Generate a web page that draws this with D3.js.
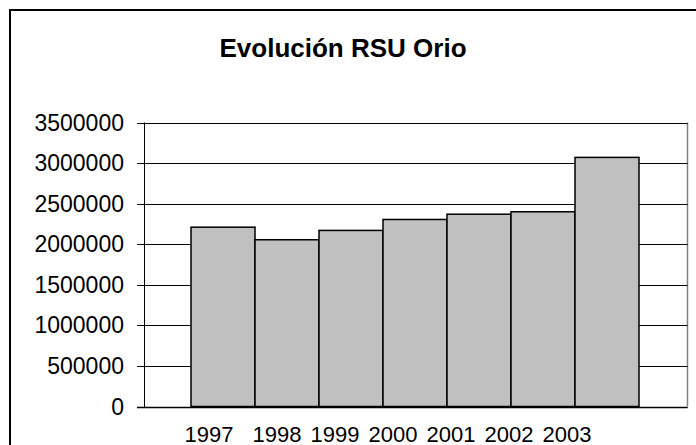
<!DOCTYPE html>
<html>
<head>
<meta charset="utf-8">
<script src="https://cdn.jsdelivr.net/npm/d3@7"></script>
<style>
  html, body { margin: 0; padding: 0; background: #fff; }
  svg { display: block; }
  text { font-family: "Liberation Sans", Arial, Helvetica, sans-serif; fill: #000; }
</style>
</head>
<body>
<svg id="chart" width="696" height="445"></svg>
<script>
const title = "Evolución RSU Orio";
const years = ["1997", "1998", "1999", "2000", "2001", "2002", "2003"];
const values = [2210000, 2055000, 2170000, 2305000, 2370000, 2400000, 3070000];
const yTicks = [0, 500000, 1000000, 1500000, 2000000, 2500000, 3000000, 3500000];

const svg = d3.select("#chart");
const plot = { left: 144.5, right: 687.5, top: 122.5, bottom: 406.5 };

// outer chart border
svg.append("rect")
  .attr("x", 10).attr("y", 10)
  .attr("width", 720).attr("height", 480)
  .attr("fill", "none").attr("stroke", "#000").attr("stroke-width", 2);

// title
svg.append("text")
  .attr("x", 343).attr("y", 57)
  .attr("text-anchor", "middle")
  .attr("font-size", 26).attr("font-weight", "bold")
  .text(title);

const y = d3.scaleLinear().domain([0, 3500000]).range([plot.bottom, plot.top]);
const x = d3.scaleBand().domain(years).range([191, 639]).padding(0);
const xLab = d3.scalePoint().domain(years).range([219, 567]);

// plot area right border
svg.append("line")
  .attr("x1", plot.right).attr("x2", plot.right)
  .attr("y1", plot.top).attr("y2", plot.bottom)
  .attr("stroke", "#808080").attr("stroke-width", 1.5);

// gridlines + y ticks
svg.append("g").selectAll("line").data(yTicks).join("line")
  .attr("x1", 137).attr("x2", plot.right)
  .attr("y1", d => Math.round(y(d)) + 0.5).attr("y2", d => Math.round(y(d)) + 0.5)
  .attr("stroke", "#000").attr("stroke-width", 1);

// y axis line
svg.append("line")
  .attr("x1", plot.left).attr("x2", plot.left)
  .attr("y1", plot.top).attr("y2", plot.bottom + 0.5)
  .attr("stroke", "#000").attr("stroke-width", 1);

// y labels
svg.append("g").selectAll("text").data(yTicks).join("text")
  .attr("x", 124).attr("y", d => y(d))
  .attr("dy", "0.35em")
  .attr("text-anchor", "end")
  .attr("font-size", 23)
  .text(d => d3.format("d")(d));

// bars
svg.append("g").selectAll("rect").data(values).join("rect")
  .attr("x", (d, i) => x(years[i]))
  .attr("y", d => y(d))
  .attr("width", x.bandwidth())
  .attr("height", d => y(0) - y(d))
  .attr("fill", "#c0c0c0")
  .attr("stroke", "#000").attr("stroke-width", 1.5);

// bottom axis line
svg.append("line")
  .attr("x1", 137).attr("x2", plot.right)
  .attr("y1", Math.round(y(0)) + 0.5).attr("y2", Math.round(y(0)) + 0.5)
  .attr("stroke", "#000").attr("stroke-width", 1.5);

// x labels
svg.append("g").selectAll("text").data(years).join("text")
  .attr("x", d => xLab(d) + (d === "1997" ? -10 : 0))
  .attr("y", 442)
  .attr("text-anchor", "middle")
  .attr("font-size", 22)
  .text(d => d);
</script>
</body>
</html>
